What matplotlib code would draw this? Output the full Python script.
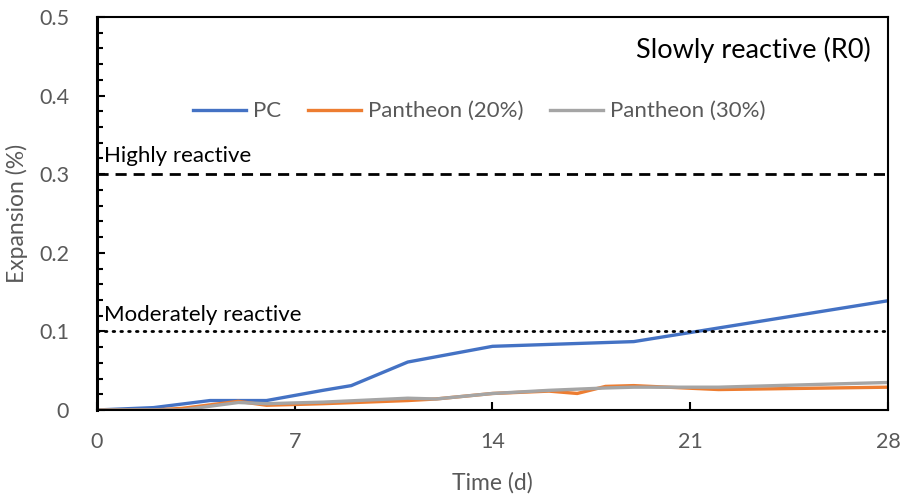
import matplotlib
matplotlib.use("Agg")
import matplotlib.pyplot as plt
from matplotlib.ticker import MultipleLocator, FuncFormatter

# expansion readings (%)
pc_days = [0, 2, 4, 6, 8, 9, 11, 14, 19, 28]
pc_exp = [0, 0.003, 0.012, 0.012, 0.025, 0.031, 0.061, 0.081, 0.087, 0.139]

p20_days = [0, 2, 3, 5, 6, 8, 11, 12, 14, 16, 17, 18, 19, 22, 28]
p20_exp = [0, 0, 0.002, 0.011, 0.006, 0.008, 0.012, 0.014, 0.021, 0.024, 0.021, 0.030, 0.031, 0.026, 0.029]

p30_days = [0, 3, 5, 6, 8, 11, 12, 14, 16, 18, 19, 22, 28]
p30_exp = [0, 0, 0.0095, 0.008, 0.010, 0.015, 0.014, 0.021, 0.025, 0.028, 0.029, 0.029, 0.035]

HIGH = 0.3
MODERATE = 0.1
xticks = [0, 7, 14, 21, 28]

plt.rcParams['font.family'] = ['Lato', 'DejaVu Sans']
GREY = "#595959"

fig = plt.figure(figsize=(9.04, 4.99), dpi=100)
ax = fig.add_axes([0.1073, 0.1784, 0.8750, 0.7875])

ax.plot(pc_days, pc_exp, color="#4472C4", lw=2.4, label="PC")
ax.plot(p20_days, p20_exp, color="#ED7D31", lw=2.4, label="Pantheon (20%)")
ax.plot(p30_days, p30_exp, color="#A5A5A5", lw=2.4, label="Pantheon (30%)")

ax.axhline(HIGH, color="black", lw=2, ls=(0, (4, 2.5)))
ax.axhline(MODERATE, color="black", lw=2, ls=(0, (0.6, 2.2)), dash_capstyle="round")

ax.text(0.25, HIGH + 0.01, "Highly reactive", fontsize=16, va="bottom")
ax.text(0.25, MODERATE + 0.008, "Moderately reactive", fontsize=16, va="bottom")
ax.text(27.4, 0.458, "Slowly reactive (R0)", fontsize=19.5, ha="right", va="center")

ax.set_xlim(0, 28)
ax.set_ylim(0, 0.5)
ax.set_xticks(xticks)
ax.yaxis.set_major_locator(MultipleLocator(0.1))
ax.yaxis.set_minor_locator(MultipleLocator(0.02))
ax.yaxis.set_major_formatter(FuncFormatter(lambda v, p: "0" if abs(v) < 1e-9 else f"{v:.1f}"))

ax.tick_params(axis="both", which="both", direction="in", colors="black",
               labelcolor=GREY, labelsize=15.5, width=1.5)
ax.tick_params(axis="y", which="major", length=6, pad=20)
ax.tick_params(axis="y", which="minor", length=4)
ax.tick_params(axis="x", which="major", length=6, pad=16)
for s in ax.spines.values():
    s.set_color("black")
    s.set_linewidth(1.5)
ax.spines["left"].set_linewidth(2.2)

ax.set_xlabel("Time (d)", fontsize=16.5, color=GREY, labelpad=14)
ax.set_ylabel("Expansion (%)", fontsize=16.5, color=GREY, labelpad=8)

ax.legend(loc="center", bbox_to_anchor=(0.483, 0.76), ncol=3, frameon=False,
          fontsize=16, handlelength=2.4, columnspacing=1.2, handletextpad=0.3,
          labelcolor=GREY)

fig.savefig("out.png", dpi=100)
